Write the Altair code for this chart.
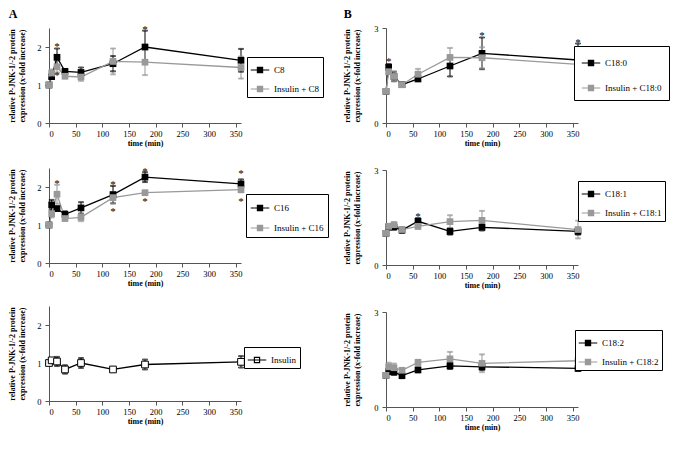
import altair as alt
import pandas as pd

times = [0, 5, 15, 30, 60, 120, 180, 360]

# Panel A1: C8
c8 = [1.0, 1.22, 1.73, 1.36, 1.33, 1.56, 2.0, 1.65]
c8_err = [0, 0.05, 0.23, 0.05, 0.13, 0.2, 0.43, 0.3]
ins_c8 = [1.0, 1.31, 1.48, 1.23, 1.21, 1.62, 1.6, 1.46]
ins_c8_err = [0, 0.1, 0.15, 0.05, 0.1, 0.34, 0.34, 0.29]
c8_star_t = [15, 180, 15, 6]
c8_star_y = [2.08, 2.52, 1.31, 1.2]

# Panel A2: C16
c16 = [1.0, 1.53, 1.43, 1.28, 1.45, 1.8, 2.26, 2.08]
c16_err = [0, 0.13, 0.06, 0.08, 0.15, 0.23, 0.13, 0.12]
ins_c16 = [1.0, 1.3, 1.81, 1.17, 1.2, 1.72, 1.85, 1.93]
ins_c16_err = [0, 0.1, 0.25, 0.05, 0.1, 0.15, 0.05, 0.07]
c16_star_t = [15, 120, 120, 180, 180, 360, 360]
c16_star_y = [2.17, 2.14, 1.43, 2.47, 1.68, 2.42, 1.68]

# Panel A3: Insulin
ins = [1.0, 1.07, 1.04, 0.83, 1.0, 0.83, 0.96, 1.03]
ins_err = [0, 0.05, 0.12, 0.11, 0.13, 0.03, 0.13, 0.15]

# Panel B1: C18:0
c180 = [1.0, 1.76, 1.47, 1.21, 1.39, 1.8, 2.2, 1.99]
c180_err = [0, 0.1, 0.15, 0.05, 0.05, 0.33, 0.5, 0.52]
ins_c180 = [1.0, 1.62, 1.47, 1.21, 1.54, 2.07, 2.06, 1.85]
ins_c180_err = [0, 0.05, 0.15, 0.05, 0.17, 0.3, 0.33, 0.36]
c180_star_t = [5, 180, 360]
c180_star_y = [2.03, 2.84, 2.63]

# Panel B2: C18:1
c181 = [1.0, 1.2, 1.2, 1.1, 1.38, 1.06, 1.19, 1.06]
c181_err = [0, 0.08, 0.08, 0.08, 0.1, 0.1, 0.1, 0.1]
ins_c181 = [1.0, 1.22, 1.27, 1.12, 1.22, 1.37, 1.41, 1.12]
ins_c181_err = [0, 0.08, 0.08, 0.06, 0.08, 0.2, 0.3, 0.28]
c181_star_t = [60]
c181_star_y = [1.6]

# Panel B3: C18:2
c182 = [1.0, 1.12, 1.1, 0.99, 1.17, 1.3, 1.27, 1.22]
c182_err = [0, 0.08, 0.08, 0.08, 0.07, 0.1, 0.1, 0.08]
ins_c182 = [1.0, 1.27, 1.24, 1.16, 1.41, 1.52, 1.38, 1.46]
ins_c182_err = [0, 0.13, 0.13, 0.05, 0.08, 0.22, 0.28, 0.25]

x_ticks = [0, 50, 100, 150, 200, 250, 300, 350]
yticks_a = [0, 0.5, 1, 1.5, 2, 2.5]
yticks_b = [0, 0.5, 1, 1.5, 2, 2.5, 3]

FONT = "Liberation Serif"
SYMBOL = "M-1,0H1M-0.28,-0.28H0.28V0.28H-0.28Z"
W, H = 192, 95


def panel(series, stars_t, stars_y, ymax, yticks, lx, ly, pad, rowpad, tpad, insulin=False):
    rows = []
    names = []
    for name, vals, errs in series:
        names.append(name)
        for t, v, e in zip(times, vals, errs):
            rows.append({"t": t, "v": v, "lo": v - e, "hi": v + e, "series": name})
    df = pd.DataFrame(rows)
    if insulin:
        stroke_range = ["black"]
        fill_range = ["white"]
    else:
        stroke_range = ["black", "#999999"]
        fill_range = ["black", "#999999"]

    legend = alt.Legend(
        title=None, orient="none", legendX=lx, legendY=ly, offset=0,
        symbolType=SYMBOL, symbolSize=342, symbolStrokeWidth=1.2, symbolOpacity=1,
        padding=pad, rowPadding=rowpad, strokeColor="black",
        labelFont=FONT, labelFontSize=9, labelColor="black", labelOffset=4,
        fillColor="white", cornerRadius=0,
    )
    stroke = alt.Stroke("series:N", scale=alt.Scale(domain=names, range=stroke_range), legend=legend)
    fill = alt.Fill("series:N", scale=alt.Scale(domain=names, range=fill_range), legend=legend)

    x = alt.X("t:Q", scale=alt.Scale(domain=[0, 360], nice=False),
              axis=alt.Axis(values=x_ticks, title="time (min)", labelOverlap=False))
    y = alt.Y("v:Q", scale=alt.Scale(domain=[0, ymax], nice=False),
              axis=alt.Axis(values=yticks,
                            title=["relative P-JNK-1/-2 protein", "expression (x-fold increase)"],
                            labelExpr="replace(datum.label, '.', ',')", labelOverlap=False,
                            titlePadding=tpad, labelPadding=4))

    base = alt.Chart(df)
    errs = base.transform_filter("datum.hi > datum.lo").mark_rule(strokeWidth=1).encode(
        x=x, y=alt.Y("lo:Q"), y2="hi:Q", stroke=stroke)
    caps = base.transform_filter("datum.hi > datum.lo").transform_fold(
        ["lo", "hi"], as_=["k", "yv"]).mark_tick(orient="horizontal", size=5, thickness=1).encode(
        x=x, y=alt.Y("yv:Q"), stroke=stroke)
    line = base.mark_line(strokeWidth=1.3).encode(x=x, y=y, stroke=stroke)
    if insulin:
        pts = base.mark_point(shape="square", filled=True, size=45, opacity=1,
                              stroke="black", strokeWidth=1).encode(x=x, y=y, fill=fill)
    else:
        pts = base.mark_point(shape="square", filled=True, size=45, opacity=1).encode(
            x=x, y=y, fill=fill)
    layers = [errs, caps, line, pts]
    if stars_t:
        sdf = pd.DataFrame({"t": stars_t, "v": stars_y})
        st = alt.Chart(sdf).mark_text(text="*", fontSize=11, font=FONT, baseline="middle",
                                      dy=3, color="black").encode(x=x, y=y)
        layers.append(st)
    return alt.layer(*layers).properties(width=W, height=H)


pA1 = panel([("C8", c8, c8_err), ("Insulin + C8", ins_c8, ins_c8_err)],
            c8_star_t, c8_star_y, 2.5, yticks_a, 198, 29, 3, 4, 10)
pA2 = panel([("C16", c16, c16_err), ("Insulin + C16", ins_c16, ins_c16_err)],
            c16_star_t, c16_star_y, 2.5, yticks_a, 197, 26, 4, 5, 10)
pA3 = panel([("Insulin", ins, ins_err)], [], [], 2.5, yticks_a, 195, 41, 3, 4, 10, insulin=True)

pB1 = panel([("C18:0", c180, c180_err), ("Insulin + C18:0", ins_c180, ins_c180_err)],
            c180_star_t, c180_star_y, 3, yticks_b, 188, 18, 7, 10, 12)
pB2 = panel([("C18:1", c181, c181_err), ("Insulin + C18:1", ins_c181, ins_c181_err)],
            c181_star_t, c181_star_y, 3, yticks_b, 192, 11, 3, 4, 12)
pB3 = panel([("C18:2", c182, c182_err), ("Insulin + C18:2", ins_c182, ins_c182_err)],
            [], [], 3, yticks_b, 189, 18, 3, 4, 12)


def column(charts, letter):
    return alt.vconcat(*charts, spacing=18,
                       title=alt.Title(letter, anchor="start", font=FONT, fontSize=12,
                                       fontWeight="bold", color="black", offset=3)
                       ).resolve_scale(stroke="independent", fill="independent"
                       ).resolve_legend(stroke="independent", fill="independent")


colA = column([pA1, pA2, pA3], "A")
colB = column([pB1, pB2, pB3], "B")

chart = alt.hconcat(colA, colB, spacing=14).resolve_scale(
    stroke="independent", fill="independent").resolve_legend(
    stroke="independent", fill="independent").configure_view(stroke=None).configure_axis(
    grid=False, labelFont=FONT, labelFontSize=8.5, labelColor="black",
    titleFont=FONT, titleFontSize=8, titleFontWeight="bold", titleColor="black",
    domainColor="#555", tickColor="#555", tickSize=4,
).configure_axisX(titlePadding=2, labelPadding=2).properties(
    background="white", padding={"left": 0, "top": 0, "right": 0, "bottom": 0})

chart.save("out.html", embed_options={"renderer": "svg", "actions": False})
